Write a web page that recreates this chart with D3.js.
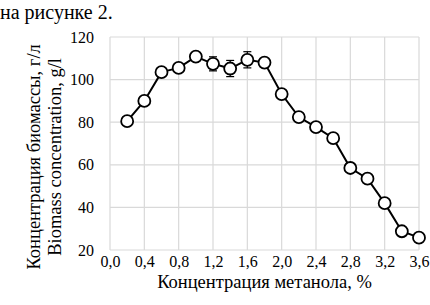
<!DOCTYPE html>
<html>
<head>
<meta charset="utf-8">
<script src="https://cdn.jsdelivr.net/npm/d3@7"></script>
<style>
  body { margin: 0; background: #fff; }
  svg { display: block; }
</style>
</head>
<body>
<div id="chart"></div>
<script>
// methanol concentration, %
const methanol = [0.2, 0.4, 0.6, 0.8, 1.0, 1.2, 1.4, 1.6, 1.8, 2.0, 2.2, 2.4, 2.6, 2.8, 3.0, 3.2, 3.4, 3.6];
// biomass concentration, g/l
const biomass = [80.5, 90, 103.5, 105.5, 110.8, 107.4, 105.2, 109.3, 108, 93.2, 82.4, 77.7, 72.5, 58.5, 53.5, 42, 28.8, 25.8];
// error bar half-widths
const errors = [0, 0, 0, 0, 0, 3.3, 3.8, 3.8, 1.8, 0, 0, 0, 0, 0, 0, 0, 0, 0];

const xTicks = [0, 0.4, 0.8, 1.2, 1.6, 2.0, 2.4, 2.8, 3.2, 3.6];
const yTicks = [20, 40, 60, 80, 100, 120];

const width = 430;
const height = 305;
const margin = {top: 37, right: 11, bottom: 55, left: 110};
const serif = '"Liberation Serif", "DejaVu Serif", serif';

const svg = d3.select('#chart')
    .append('svg')
        .attr('width', width)
        .attr('height', height)
        .attr('font-family', serif);

const x = d3.scaleLinear()
    .domain([0, 3.6])
    .range([margin.left, width - margin.right]);

const y = d3.scaleLinear()
    .domain([20, 120])
    .range([height - margin.bottom, margin.top]);

// text above the chart
svg.append('text')
    .attr('x', 0)
    .attr('y', 19)
    .style('font-family', serif)
    .style('font-size', '20px')
    .text('на рисунке 2.');

// grid
const grid = svg.append('g')
    .attr('stroke', '#d9d9d9')
    .attr('stroke-width', 1.2);
grid.selectAll('.vgrid')
    .data(xTicks)
    .join('line')
        .attr('x1', d => x(d))
        .attr('x2', d => x(d))
        .attr('y1', y(20))
        .attr('y2', y(120));
grid.selectAll('.hgrid')
    .data(yTicks)
    .join('line')
        .attr('x1', x(0))
        .attr('x2', x(3.6))
        .attr('y1', d => y(d))
        .attr('y2', d => y(d));

// axes (labels only)
const fmt = d => d3.format('.1f')(d).replace('.', ',');
const xAxis = svg.append('g')
    .attr('transform', `translate(0, ${y(20)})`)
    .call(d3.axisBottom(x).tickValues(xTicks).tickFormat(fmt).tickSize(0).tickPadding(6));
xAxis.attr('font-family', serif).attr('font-size', 16);
xAxis.select('.domain').remove();
xAxis.selectAll('text').attr('fill', '#000');

const yAxis = svg.append('g')
    .attr('transform', `translate(${x(0)}, 0)`)
    .call(d3.axisLeft(y).tickValues(yTicks).tickSize(0).tickPadding(16));
yAxis.attr('font-family', serif).attr('font-size', 16);
yAxis.select('.domain').remove();
yAxis.selectAll('text').attr('fill', '#000');

// axis titles
svg.append('text')
    .attr('text-anchor', 'middle')
    .attr('x', x(1.8))
    .attr('y', 288)
    .style('font-family', serif)
    .style('font-size', '18.5px')
    .text('Концентрация метанола, %');

svg.append('text')
    .attr('text-anchor', 'middle')
    .attr('transform', `translate(40, ${y(63.7)}) rotate(-90)`)
    .style('font-family', serif)
    .style('font-size', '18.5px')
    .text('Концентрация биомассы, г/л');
svg.append('text')
    .attr('text-anchor', 'middle')
    .attr('transform', `translate(61, ${y(63.7)}) rotate(-90)`)
    .style('font-family', serif)
    .style('font-size', '18.5px')
    .text('Biomass concentration, g/l');

const points = methanol.map((m, i) => ({m, b: biomass[i], e: errors[i]}));

// line
svg.append('path')
    .datum(points)
    .attr('fill', 'none')
    .attr('stroke', '#000')
    .attr('stroke-width', 2)
    .attr('d', d3.line().x(d => x(d.m)).y(d => y(d.b)));

// error bars
const eb = svg.append('g')
    .attr('stroke', '#000')
    .attr('stroke-width', 1.2)
    .selectAll('g')
    .data(points.filter(d => d.e > 0))
    .join('g');
eb.append('line')
    .attr('x1', d => x(d.m)).attr('x2', d => x(d.m))
    .attr('y1', d => y(d.b - d.e)).attr('y2', d => y(d.b + d.e));
eb.append('line')
    .attr('x1', d => x(d.m) - 4).attr('x2', d => x(d.m) + 4)
    .attr('y1', d => y(d.b + d.e)).attr('y2', d => y(d.b + d.e));
eb.append('line')
    .attr('x1', d => x(d.m) - 4).attr('x2', d => x(d.m) + 4)
    .attr('y1', d => y(d.b - d.e)).attr('y2', d => y(d.b - d.e));

// markers
svg.append('g')
    .selectAll('circle')
    .data(points)
    .join('circle')
        .attr('cx', d => x(d.m))
        .attr('cy', d => y(d.b))
        .attr('r', 6)
        .attr('fill', '#fff')
        .attr('stroke', '#000')
        .attr('stroke-width', 1.8);
</script>
</body>
</html>
